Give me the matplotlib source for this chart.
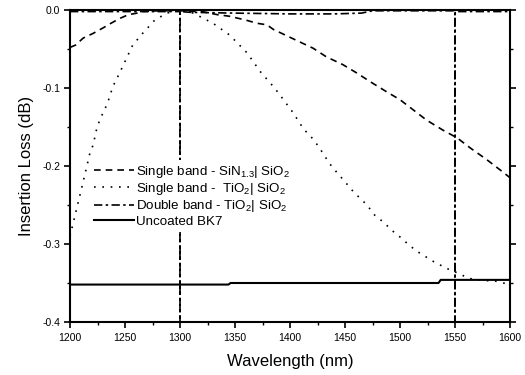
import numpy as np
import matplotlib
matplotlib.use('Agg')
import matplotlib.pyplot as plt
from matplotlib.ticker import MultipleLocator

plt.rcParams['font.family'] = ['Liberation Sans', 'DejaVu Sans']
plt.rcParams['mathtext.default'] = 'regular'

# single band SiN1.3 | SiO2 (dashed)
wl_sin = [1200, 1205, 1212, 1221, 1230, 1236, 1245, 1253, 1261, 1266, 1280, 1300, 1320,
          1334, 1345, 1360, 1370, 1379, 1385, 1397, 1409, 1421, 1433, 1448, 1461, 1473,
          1488, 1500, 1512, 1524, 1539, 1552, 1564, 1579, 1591, 1600]
il_sin = [-0.048, -0.045, -0.036, -0.030, -0.023, -0.018, -0.011, -0.006, -0.004, -0.002,
          -0.001, -0.001, -0.002, -0.006, -0.008, -0.013, -0.017, -0.019, -0.025, -0.033,
          -0.041, -0.049, -0.060, -0.070, -0.081, -0.092, -0.105, -0.115, -0.128, -0.141,
          -0.154, -0.164, -0.177, -0.192, -0.205, -0.215]

# single band TiO2 | SiO2 (dotted)
wl_tio = [1200, 1206, 1212, 1218, 1221, 1224, 1227, 1234, 1239, 1245, 1250, 1257, 1266,
          1277, 1288, 1300, 1312, 1330, 1345, 1361, 1373, 1386, 1393, 1403, 1412, 1420,
          1426, 1436, 1443, 1450, 1455, 1462, 1470, 1477, 1485, 1493, 1500, 1508, 1515,
          1523, 1531, 1538, 1545, 1554, 1562, 1577, 1585, 1594, 1600]
il_tio = [-0.290, -0.255, -0.220, -0.184, -0.173, -0.154, -0.141, -0.120, -0.098, -0.081,
          -0.066, -0.045, -0.030, -0.013, -0.004, 0.000, -0.004, -0.017, -0.032, -0.055,
          -0.079, -0.100, -0.113, -0.132, -0.152, -0.164, -0.175, -0.197, -0.209, -0.220,
          -0.229, -0.239, -0.250, -0.263, -0.272, -0.283, -0.291, -0.301, -0.309, -0.316,
          -0.323, -0.328, -0.333, -0.338, -0.344, -0.347, -0.347, -0.350, -0.352]

# double band TiO2 | SiO2 (dash-dot), sharp dips at 1300 and 1550 nm
wl_db = [1200, 1260, 1299.9, 1300, 1300.1, 1310, 1350, 1400, 1440, 1465, 1475, 1500,
         1549.9, 1550, 1550.1, 1560, 1600]
il_db = [-0.002, -0.002, -0.002, -0.5, -0.002, -0.003, -0.004, -0.005, -0.005, -0.004,
         -0.001, -0.001, -0.001, -0.5, -0.002, -0.002, -0.002]

# uncoated BK7 (solid)
wl_bk7 = [1200, 1344, 1346, 1535, 1537, 1600]
il_bk7 = [-0.352, -0.352, -0.350, -0.350, -0.346, -0.346]

fig = plt.figure(figsize=(5.25, 3.75), dpi=100)
ax = fig.add_axes([70/525, 1-322/375, 440/525, 312/375])

ax.plot(wl_sin, il_sin, color='k', lw=1.2, dashes=(4, 3),
        label='Single band - SiN$_{1.3}$| SiO$_2$')
ax.plot(wl_tio, il_tio, color='k', lw=1.2, dashes=(1, 4),
        label='Single band -  TiO$_2$| SiO$_2$')
ax.plot(wl_db, il_db, color='k', lw=1.2, dashes=(5, 2, 1.5, 2),
        label='Double band - TiO$_2$| SiO$_2$')
ax.plot(wl_bk7, il_bk7, color='k', lw=1.5, label='Uncoated BK7')

ax.set_xlim(1200, 1600)
ax.set_ylim(-0.4, 0.0)
ax.xaxis.set_major_locator(MultipleLocator(50))
ax.xaxis.set_minor_locator(MultipleLocator(25))
ax.yaxis.set_major_locator(MultipleLocator(0.1))
ax.yaxis.set_minor_locator(MultipleLocator(0.05))
ax.yaxis.set_major_formatter(matplotlib.ticker.FormatStrFormatter('%.1f'))
ax.tick_params(which='major', direction='out', length=4, width=1.2, labelsize=7.5, pad=3)
ax.tick_params(axis='x', which='major', pad=4)
ax.tick_params(which='minor', direction='out', length=2.5, width=1.0)
ax.tick_params(axis='y', which='both', right=True)
for s in ax.spines.values():
    s.set_linewidth(1.5)

ax.set_xlabel('Wavelength (nm)', fontsize=12, labelpad=8)
ax.set_ylabel('Insertion Loss (dB)', fontsize=12, labelpad=6)

leg = ax.legend(loc='upper left', bbox_to_anchor=(0.045, 0.52), frameon=True,
                fontsize=9.6, handlelength=3.0, handletextpad=0.15, labelspacing=0.1,
                borderpad=0.3, borderaxespad=0)
leg.get_frame().set_edgecolor('none')
leg.get_frame().set_facecolor('white')
leg.get_frame().set_alpha(1)

plt.savefig('out.png', dpi=100)
